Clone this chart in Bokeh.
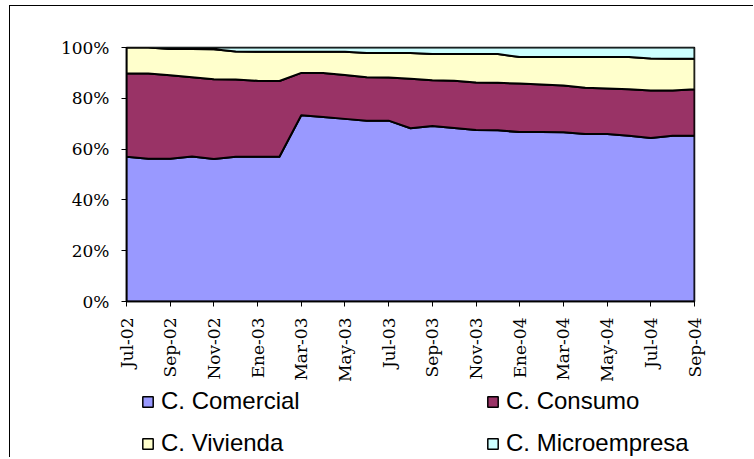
import math
import numpy as np
from bokeh.plotting import figure
from bokeh.layouts import column
from bokeh.models import Range1d, FixedTicker, Legend, LegendItem
from bokeh.embed import file_html
from bokeh.resources import INLINE

# ---------------- data ----------------
months = ["Jul-02", "Ago-02", "Sep-02", "Oct-02", "Nov-02", "Dic-02",
          "Ene-03", "Feb-03", "Mar-03", "Abr-03", "May-03", "Jun-03",
          "Jul-03", "Ago-03", "Sep-03", "Oct-03", "Nov-03", "Dic-03",
          "Ene-04", "Feb-04", "Mar-04", "Abr-04", "May-04", "Jun-04",
          "Jul-04", "Ago-04", "Sep-04"]

tick_labels = ["Jul-02", "Sep-02", "Nov-02", "Ene-03", "Mar-03", "May-03",
               "Jul-03", "Sep-03", "Nov-03", "Ene-04", "Mar-04", "May-04",
               "Jul-04", "Sep-04"]

y_ticks = [0, 20, 40, 60, 80, 100]

series_names = ["C. Comercial", "C. Consumo", "C. Vivienda", "C. Microempresa"]

comercial = [57.0, 56.2, 56.2, 57.1, 56.1, 57.0, 57.0, 57.0, 73.3, 72.6, 71.9, 71.2, 71.2,
             68.2, 69.1, 68.3, 67.5, 67.4, 66.7, 66.7, 66.6, 65.9, 65.9, 65.3, 64.4, 65.3, 65.3]
consumo = [32.8, 33.6, 32.9, 31.2, 31.4, 30.4, 29.9, 29.8, 16.7, 17.4, 17.3, 17.1, 17.0,
           19.5, 18.0, 18.6, 18.7, 18.7, 19.1, 18.7, 18.4, 18.3, 18.0, 18.3, 18.7, 17.8, 18.3]
vivienda = [10.2, 10.2, 10.3, 11.1, 11.8, 11.0, 11.4, 11.5, 8.3, 8.3, 9.1, 9.5, 9.6,
            10.1, 10.3, 10.5, 11.2, 11.3, 10.5, 10.9, 11.3, 12.1, 12.4, 12.7, 12.6, 12.5, 12.0]
microempresa = [0.0, 0.0, 0.6, 0.6, 0.7, 1.6, 1.7, 1.7, 1.7, 1.7, 1.7, 2.2, 2.2,
                2.2, 2.6, 2.6, 2.6, 2.6, 3.7, 3.7, 3.7, 3.7, 3.7, 3.7, 4.3, 4.4, 4.4]

colors = ["#9999FF", "#993366", "#FFFFCC", "#CCFFFF"]

# ---------------- main figure ----------------
n = len(months)
x = np.arange(n)

p = figure(width=753, height=386, output_backend="svg", toolbar_location=None,
           x_range=Range1d(0, n - 1), y_range=Range1d(0, 100),
           min_border_left=126, min_border_right=59,
           min_border_top=47, min_border_bottom=85)
p.border_fill_color = None
p.grid.visible = False
p.outline_line_color = "#000000"
p.outline_line_width = 1.5

vals = np.array([comercial, consumo, vivienda, microempresa], dtype=float)
vals = vals / vals.sum(axis=0) * 100.0
cum = np.vstack([np.zeros(n), np.cumsum(vals, axis=0)])

polys = []
for k in range(4):
    lower = cum[k]
    upper = cum[k + 1]
    xs = list(x) + list(x[::-1])
    ys = list(upper) + list(lower[::-1])
    polys.append((xs, ys))
    p.patch(xs, ys, fill_color=colors[k], line_color="#000000", line_width=2,
            line_join="round")

p.xaxis.ticker = FixedTicker(ticks=[months.index(t) for t in tick_labels])
p.xaxis.major_label_overrides = {months.index(t): t for t in tick_labels}
p.xaxis.major_label_orientation = math.pi / 2
p.yaxis.ticker = FixedTicker(ticks=y_ticks)
p.yaxis.major_label_overrides = {v: f"{v}%" for v in y_ticks}

for ax in (p.xaxis[0], p.yaxis[0]):
    ax.axis_line_color = "#000000"
    ax.axis_line_width = 1.5
    ax.major_tick_line_color = "#000000"
    ax.major_tick_line_width = 1
    ax.major_tick_out = 5
    ax.major_tick_in = 0
    ax.minor_tick_line_color = None
    ax.major_label_text_font = "DejaVu Serif"
    ax.major_label_text_font_size = "17px"
    ax.major_label_text_color = "#000000"

p.yaxis.major_label_standoff = 12
p.xaxis.major_label_standoff = 11

# ---------------- legend strip ----------------
p2 = figure(width=753, height=71, output_backend="svg", toolbar_location=None,
            x_range=Range1d(0, 1), y_range=Range1d(500, 501),
            min_border_left=126, min_border_right=59, min_border_top=0, min_border_bottom=0)
p2.border_fill_color = None
p2.background_fill_color = None
p2.xaxis.visible = False
p2.yaxis.visible = False
p2.grid.visible = False
p2.outline_line_color = None

swatches = [p2.patch(polys[k][0], polys[k][1], fill_color=colors[k],
                     line_color="#000000", line_width=1.5) for k in range(4)]

def make_legend(idx, loc):
    leg = Legend(items=[LegendItem(label=series_names[i], renderers=[swatches[i]]) for i in idx],
                 location=loc, orientation="vertical")
    leg.label_text_font = "Liberation Sans"
    leg.label_text_font_size = "24px"
    leg.label_text_color = "#000000"
    leg.glyph_width = 13
    leg.glyph_height = 13
    leg.label_height = 28
    leg.spacing = 14
    leg.label_standoff = 7
    leg.padding = 0
    leg.margin = 0
    leg.border_line_color = None
    leg.background_fill_alpha = 0
    return leg

p2.add_layout(make_legend([0, 2], (15, 0)))
p2.add_layout(make_legend([1, 3], (360, 0)))

layout = column(p, p2, spacing=0)
layout.styles = {
    "background-image": "linear-gradient(#000000, #000000), linear-gradient(#000000, #000000)",
    "background-size": "1px 100%, 2000px 1px",
    "background-position": "9px 5px, 9px 5px",
    "background-repeat": "no-repeat, no-repeat",
    "overflow": "hidden",
}
open("out.html", "w").write(file_html(layout, INLINE))
